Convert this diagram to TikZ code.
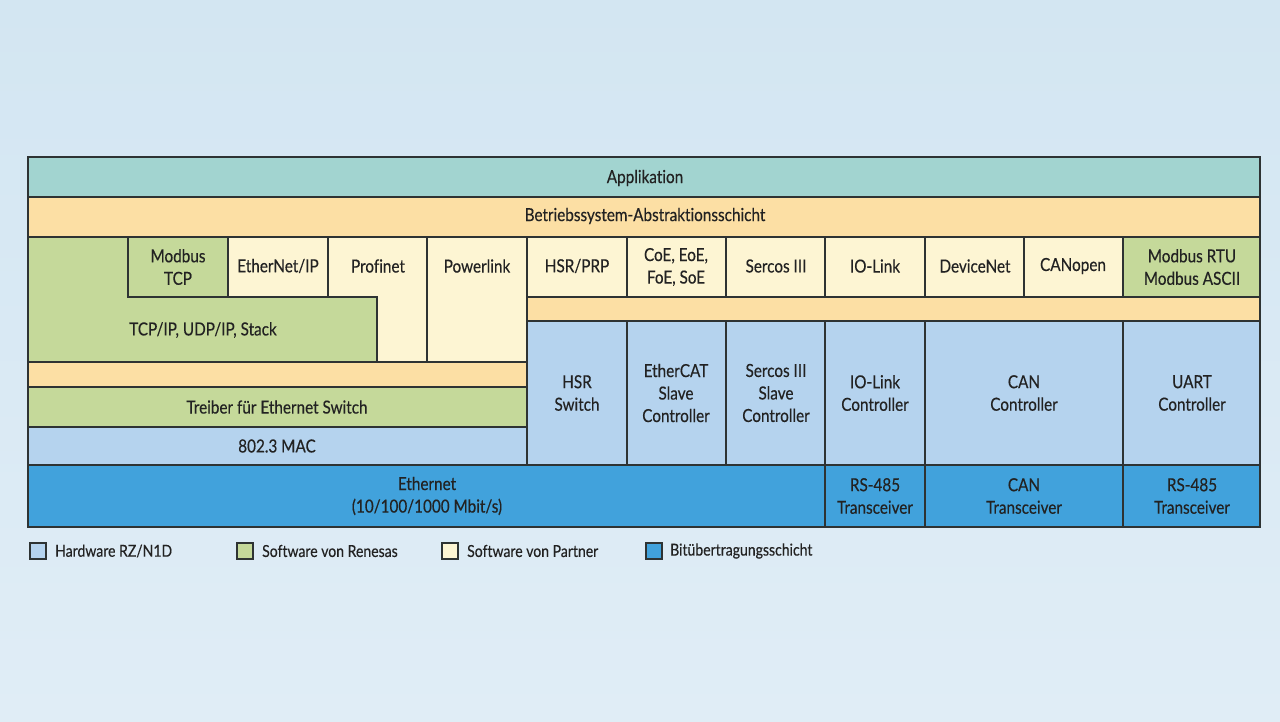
\documentclass[tikz,border=0pt]{standalone}
\usepackage{fontspec}
\setmainfont{Lato}[FakeStretch=0.85,FakeBold=0.35,Ligatures={NoCommon,NoContextual,NoRare}]
\definecolor{bgtop}{HTML}{D3E6F2}
\definecolor{bgbot}{HTML}{E0EDF6}
\definecolor{app}{HTML}{A2D4D0}
\definecolor{osa}{HTML}{FCDFA4}
\definecolor{par}{HTML}{FDF5D3}
\definecolor{ren}{HTML}{C5D99A}
\definecolor{hw}{HTML}{B5D3EE}
\definecolor{phy}{HTML}{41A2DC}
\definecolor{frame}{HTML}{2E3333}
\definecolor{txt}{HTML}{222222}
\tikzset{
  box/.style={draw=frame, line width=1.4pt, line join=miter},
  lbl/.style={text=txt, font=\fontsize{18}{22.5}\selectfont, align=center, inner sep=0pt},
  leg/.style={draw=frame, line width=1.1pt},
  legtxt/.style={text=txt, font=\fontsize{16.5}{20}\selectfont, anchor=west, inner sep=0pt}
}
\begin{document}
\begin{tikzpicture}[x=1pt,y=-1pt]
\useasboundingbox (0,0) rectangle (1280,721);
\shade[top color=bgtop, bottom color=bgbot] (0,0) rectangle (1280,721);
% top rows
\draw[box,fill=app] (28,157) rectangle (1260,197);
\draw[box,fill=osa] (28,197) rectangle (1260,237);
% left software block
\draw[box,fill=ren] (28,237) -- (128,237) -- (128,297) -- (377,297) -- (377,362) -- (28,362) -- cycle;
\draw[box,fill=ren] (128,237) rectangle (228,297);
\draw[box,fill=par] (228,237) rectangle (328,297);
\draw[box,fill=par] (328,237) -- (427,237) -- (427,362) -- (377,362) -- (377,297) -- (328,297) -- cycle;
\draw[box,fill=par] (427,237) rectangle (527,362);
\draw[box,fill=osa] (28,362) rectangle (527,387);
\draw[box,fill=ren] (28,387) rectangle (527,427);
\draw[box,fill=hw] (28,427) rectangle (527,465);
% right protocol row
\draw[box,fill=par] (527,237) rectangle (627,297);
\draw[box,fill=par] (627,237) rectangle (726,297);
\draw[box,fill=par] (726,237) rectangle (825,297);
\draw[box,fill=par] (825,237) rectangle (925,297);
\draw[box,fill=par] (925,237) rectangle (1024,297);
\draw[box,fill=par] (1024,237) rectangle (1123,297);
\draw[box,fill=ren] (1123,237) rectangle (1260,297);
\draw[box,fill=osa] (527,297) rectangle (1260,321);
% hardware
\draw[box,fill=hw] (527,321) rectangle (627,465);
\draw[box,fill=hw] (627,321) rectangle (726,465);
\draw[box,fill=hw] (726,321) rectangle (825,465);
\draw[box,fill=hw] (825,321) rectangle (925,465);
\draw[box,fill=hw] (925,321) rectangle (1123,465);
\draw[box,fill=hw] (1123,321) rectangle (1260,465);
% physical layer
\draw[box,fill=phy] (28,465) rectangle (825,527);
\draw[box,fill=phy] (825,465) rectangle (925,527);
\draw[box,fill=phy] (925,465) rectangle (1123,527);
\draw[box,fill=phy] (1123,465) rectangle (1260,527);
\draw[box] (28,157) rectangle (1260,527);
% labels
\node[lbl] (tapp) at (645,178) {Applikation};
\node[lbl] (tosa) at (645,216) {Betriebssystem-Abstraktionsschicht};
\node[lbl] (tmtcp) at (178,267) {Modbus\\TCP};
\node[lbl] (teip) at (278,266) {EtherNet/IP};
\node[lbl] (tpfn) at (378,266) {Profinet};
\node[lbl] (tpwl) at (477,266) {Powerlink};
\node[lbl] (thsrp) at (577,266) {HSR/PRP};
\node[lbl] (tcoe) at (676,267) {CoE, EoE,\\FoE, SoE};
\node[lbl] (tsrc) at (776,266) {Sercos III};
\node[lbl] (tiol) at (875,266) {IO-Link};
\node[lbl] (tdn) at (975,266) {DeviceNet};
\node[lbl] (tcano) at (1073,266) {CANopen};
\node[lbl] (tmrtu) at (1192,267) {Modbus RTU\\Modbus ASCII};
\node[lbl] (ttcp) at (203,330) {TCP/IP, UDP/IP, Stack};
\node[lbl] (tdrv) at (277,407) {Treiber für Ethernet Switch};
\node[lbl] (tmac) at (277,446) {802.3 MAC};
\node[lbl] (thsw) at (577,393) {HSR\\Switch};
\node[lbl] (tecat) at (676,393) {EtherCAT\\Slave\\Controller};
\node[lbl] (tsrcs) at (776,393) {Sercos III\\Slave\\Controller};
\node[lbl] (tiolc) at (875,393) {IO-Link\\Controller};
\node[lbl] (tcanc) at (1024,393) {CAN\\Controller};
\node[lbl] (tuart) at (1192,393) {UART\\Controller};
\node[lbl] (teth) at (427,496) {Ethernet\\(10/100/1000 Mbit/s)};
\node[lbl] (trs1) at (875,496) {RS-485\\Transceiver};
\node[lbl] (tcant) at (1024,496) {CAN\\Transceiver};
\node[lbl] (trs2) at (1192,496) {RS-485\\Transceiver};
% legend
\draw[leg,fill=hw] (30,543) rectangle (46,559);
\node[legtxt] (lhw) at (55,551) {Hardware RZ/N1D};
\draw[leg,fill=ren] (237,543) rectangle (253,559);
\node[legtxt] (lren) at (262,551) {Software von Renesas};
\draw[leg,fill=par] (442,543) rectangle (458,559);
\node[legtxt] (lpar) at (467,551) {Software von Partner};
\draw[leg,fill=phy] (646,543) rectangle (662,559);
\node[legtxt] (lphy) at (670,551) {Bitübertragungsschicht};
\end{tikzpicture}
\end{document}
